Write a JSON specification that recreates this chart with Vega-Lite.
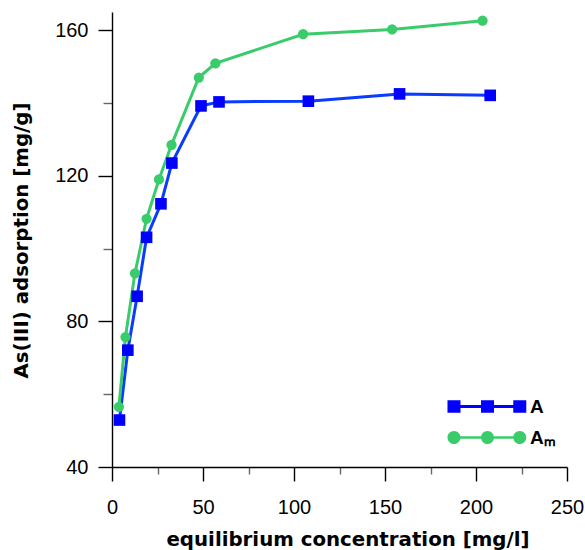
{
  "$schema": "https://vega.github.io/schema/vega-lite/v6.json",
  "width": 455,
  "height": 455,
  "autosize": "none",
  "padding": {"left": 112, "top": 12, "right": 18, "bottom": 83},
  "background": "white",
  "config": {
    "view": {"stroke": null},
    "font": "Liberation Sans",
    "axis": {
      "domainColor": "#000000",
      "domainWidth": 1.4,
      "tickWidth": 1.4,
      "grid": false,
      "labelFont": "Liberation Sans",
      "labelFontSize": 20,
      "labelColor": "#000000",
      "labelOverlap": false,
      "labelFlush": false,
      "titleFont": "DejaVu Sans",
      "titleFontSize": 19.8,
      "titleFontWeight": "bold",
      "titleColor": "#000000",
      "titleBaseline": "alphabetic"
    }
  },
  "data": {
    "values": [
      {"series": "A", "conc": 4.1, "ads": 52.9},
      {"series": "A", "conc": 8.7, "ads": 72.1},
      {"series": "A", "conc": 13.8, "ads": 86.9},
      {"series": "A", "conc": 19.0, "ads": 103.1},
      {"series": "A", "conc": 26.9, "ads": 112.3},
      {"series": "A", "conc": 32.9, "ads": 123.5},
      {"series": "A", "conc": 48.9, "ads": 139.2},
      {"series": "A", "conc": 58.8, "ads": 140.3},
      {"series": "A", "conc": 107.9, "ads": 140.5},
      {"series": "A", "conc": 158.0, "ads": 142.5},
      {"series": "A", "conc": 207.8, "ads": 142.1},
      {"series": "AM", "conc": 3.8, "ads": 56.5},
      {"series": "AM", "conc": 7.4, "ads": 75.7},
      {"series": "AM", "conc": 12.6, "ads": 93.2},
      {"series": "AM", "conc": 19.0, "ads": 108.2},
      {"series": "AM", "conc": 25.8, "ads": 119.0},
      {"series": "AM", "conc": 32.7, "ads": 128.5},
      {"series": "AM", "conc": 47.7, "ads": 147.0},
      {"series": "AM", "conc": 56.8, "ads": 150.9},
      {"series": "AM", "conc": 105.0, "ads": 158.9},
      {"series": "AM", "conc": 153.9, "ads": 160.2},
      {"series": "AM", "conc": 203.6, "ads": 162.6}
    ]
  },
  "encoding": {
    "x": {
      "field": "conc",
      "type": "quantitative",
      "scale": {"domain": [0, 250], "nice": false, "zero": false},
      "axis": {
        "title": "equilibrium concentration [mg/l]",
        "values": [0, 25, 50, 75, 100, 125, 150, 175, 200, 225, 250],
        "labelExpr": "datum.value % 50 === 0 ? datum.label : ''",
        "tickSize": {"condition": {"test": "datum.value % 50 === 0", "value": 14}, "value": 7},
        "tickColor": {"condition": {"test": "datum.value % 50 === 0", "value": "#000000"}, "value": "#666666"},
        "labelPadding": 16,
        "titleX": 235.5,
        "titleY": 78
      }
    },
    "y": {
      "field": "ads",
      "type": "quantitative",
      "scale": {"domain": [40, 165], "nice": false, "zero": false},
      "axis": {
        "title": "As(III) adsorption [mg/g]",
        "values": [40, 60, 80, 100, 120, 140, 160],
        "labelExpr": "datum.value % 40 === 0 ? datum.label : ''",
        "tickSize": {"condition": {"test": "datum.value % 40 === 0", "value": 14}, "value": 9},
        "tickColor": {"condition": {"test": "datum.value % 40 === 0", "value": "#000000"}, "value": "#666666"},
        "labelPadding": 10,
        "titleX": -85,
        "titleY": 228
      }
    }
  },
  "layer": [
    {
      "mark": {"type": "line", "strokeWidth": 3},
      "encoding": {
        "color": {
          "field": "series",
          "type": "nominal",
          "scale": {"domain": ["A", "AM"], "range": ["#0a3cff", "#3acc6a"]},
          "legend": null
        }
      }
    },
    {
      "mark": {"type": "point", "filled": true, "opacity": 1},
      "encoding": {
        "shape": {
          "field": "series",
          "type": "nominal",
          "scale": {"domain": ["A", "AM"], "range": ["square", "circle"]},
          "legend": null
        },
        "size": {
          "field": "series",
          "type": "nominal",
          "scale": {"domain": ["A", "AM"], "range": [135, 105]},
          "legend": null
        },
        "color": {
          "field": "series",
          "type": "nominal",
          "scale": {"domain": ["A", "AM"], "range": ["#0000ff", "#3acc6a"]},
          "legend": {
            "title": null,
            "orient": "none",
            "legendX": 366,
            "legendY": 385,
            "symbolSize": 154,
            "symbolStrokeWidth": 0,
            "symbolOpacity": 1,
            "symbolType": {"expr": "datum.value === 'A' ? 'M-6.45,-1H-4.35V1H-6.45Z M-1.05,-1H1.05V1H-1.05Z M4.15,-1H6.25V1H4.15Z M-5.4,-0.24H5.2V0.24H-5.4Z' : 'M-4.35,0C-4.35,0.58 -4.82,1.05 -5.4,1.05C-5.98,1.05 -6.45,0.58 -6.45,0C-6.45,-0.58 -5.98,-1.05 -5.4,-1.05C-4.82,-1.05 -4.35,-0.58 -4.35,0Z M1.05,0C1.05,0.58 0.58,1.05 0,1.05C-0.58,1.05 -1.05,0.58 -1.05,0C-1.05,-0.58 -0.58,-1.05 0,-1.05C0.58,-1.05 1.05,-0.58 1.05,0Z M6.25,0C6.25,0.58 5.78,1.05 5.2,1.05C4.62,1.05 4.15,0.58 4.15,0C4.15,-0.58 4.62,-1.05 5.2,-1.05C5.78,-1.05 6.25,-0.58 6.25,0Z M-5.4,-0.22H5.2V0.22H-5.4Z'"},
            "labelOffset": 33,
            "labelFont": "Liberation Sans",
            "labelFontSize": 19,
            "labelFontWeight": "bold",
            "labelColor": "#000000",
            "rowPadding": 11,
            "labelExpr": "datum.value === 'AM' ? 'A\u2098' : datum.value"
          }
        }
      }
    }
  ],
  "resolve": {"scale": {"color": "independent"}}
}
